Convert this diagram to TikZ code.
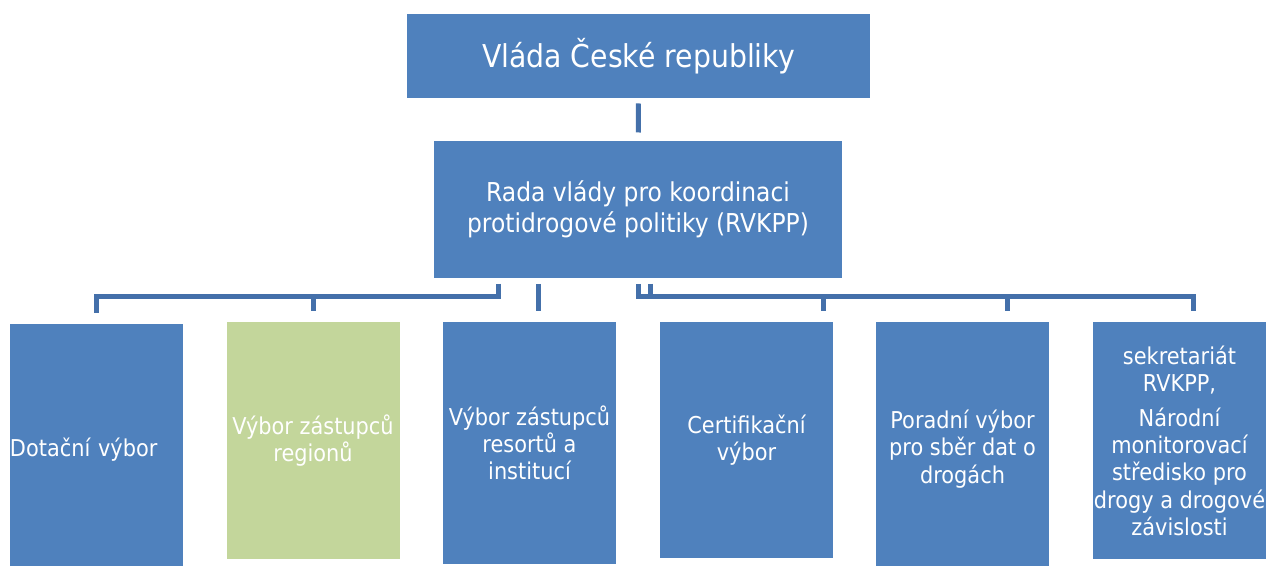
\documentclass[tikz,border=0pt]{standalone}
\usepackage{fontspec}
\setmainfont[FakeStretch=0.9]{DejaVu Sans}
\usetikzlibrary{calc}

\definecolor{boxblue}{RGB}{79,129,189}
\definecolor{boxgreen}{RGB}{195,214,155}
\definecolor{connblue}{RGB}{68,112,170}

\tikzset{every picture/.style={line width=0.75pt}}
\tikzset{
  orgbox/.style={fill=boxblue, draw=none, text=white, inner sep=0pt, align=center},
  lowbox/.style={orgbox, minimum width=129.75pt, font=\fontsize{17.4}{20.4}\selectfont},
  conn/.style={draw=connblue, line width=3.75pt}
}

\begin{document}
\begin{tikzpicture}[x=0.75pt,y=0.75pt,yscale=-1,xscale=1]
    \useasboundingbox (0,0) rectangle (1268,566);

    %Shape: Rectangle [id:vlada]
    \node [orgbox, minimum width=347.25pt, minimum height=63pt, font=\fontsize{23.6}{28}\selectfont] (vlada) at (638.5,56) {Vláda České republiky};
    %Shape: Rectangle [id:rada]
    \node [orgbox, minimum width=306pt, minimum height=102.75pt, font=\fontsize{19.5}{23}\selectfont] (rada) at (638,209.5) {Rada vlády pro koordinaci\\protidrogové politiky (RVKPP)};

    %Shape: Rectangle [id:dotace]
    \node [lowbox, minimum height=189pt, text width=129.75pt, align=left] (dotace) at (96.5,450) {Dotační výbor};
    %Shape: Rectangle [id:regiony]
    \node [lowbox, fill=boxgreen, minimum height=177.75pt] (regiony) at (313,440.5) {Výbor zástupců\\regionů};
    %Shape: Rectangle [id:resorty]
    \node [lowbox, minimum height=181.5pt] (resorty) at (529.5,443) {Výbor zástupců\\resortů a\\institucí};
    %Shape: Rectangle [id:certif]
    \node [lowbox, minimum height=177pt] (certif) at (746.5,440) {Certifikační\\výbor};
    %Shape: Rectangle [id:poradni]
    \node [lowbox, minimum height=190.5pt] (poradni) at (962.5,449) {Poradní výbor\\pro sběr dat o\\drogách};
    %Shape: Rectangle [id:sekretariat]
    \node [lowbox, minimum height=177.75pt] (sekretariat) at (1179.5,440.5) {sekretariát\\RVKPP,\\[6pt]Národní\\monitorovací\\středisko pro\\drogy a drogové\\závislosti};

    %Straight Lines [id:vlada-rada]
    \draw [conn, shorten <=3.75pt, shorten >=6pt] (vlada) -- (rada);

    % stubs under the council box
    \coordinate (stubA) at (498,284);
    \coordinate (stubB) at (538,284);
    \coordinate (stubC) at (638,284);
    \coordinate (stubD) at (650,284);

    %Elbow Lines [id:rada-children]
    \draw [conn, shorten >=7.5pt] (stubA) -- ++(0,13) -| (dotace.north);
    \draw [conn, shorten >=7.5pt] (stubA) -- ++(0,13) -| (regiony.north);
    \draw [conn, shorten >=7.5pt] (stubB) -- ($(resorty.north)+(8.5,0)$);
    \draw [conn, shorten >=7.5pt] (stubC) -- ++(0,13) -| ($(certif.north)+(76.5,0)$);
    \draw [conn, shorten >=7.5pt] (stubD) -- ++(0,13) -| ($(poradni.north)+(44.5,0)$);
    \draw [conn, shorten >=7.5pt] (stubD) -- ++(0,13) -| ($(sekretariat.north)+(13.5,0)$);

\end{tikzpicture}
\end{document}
